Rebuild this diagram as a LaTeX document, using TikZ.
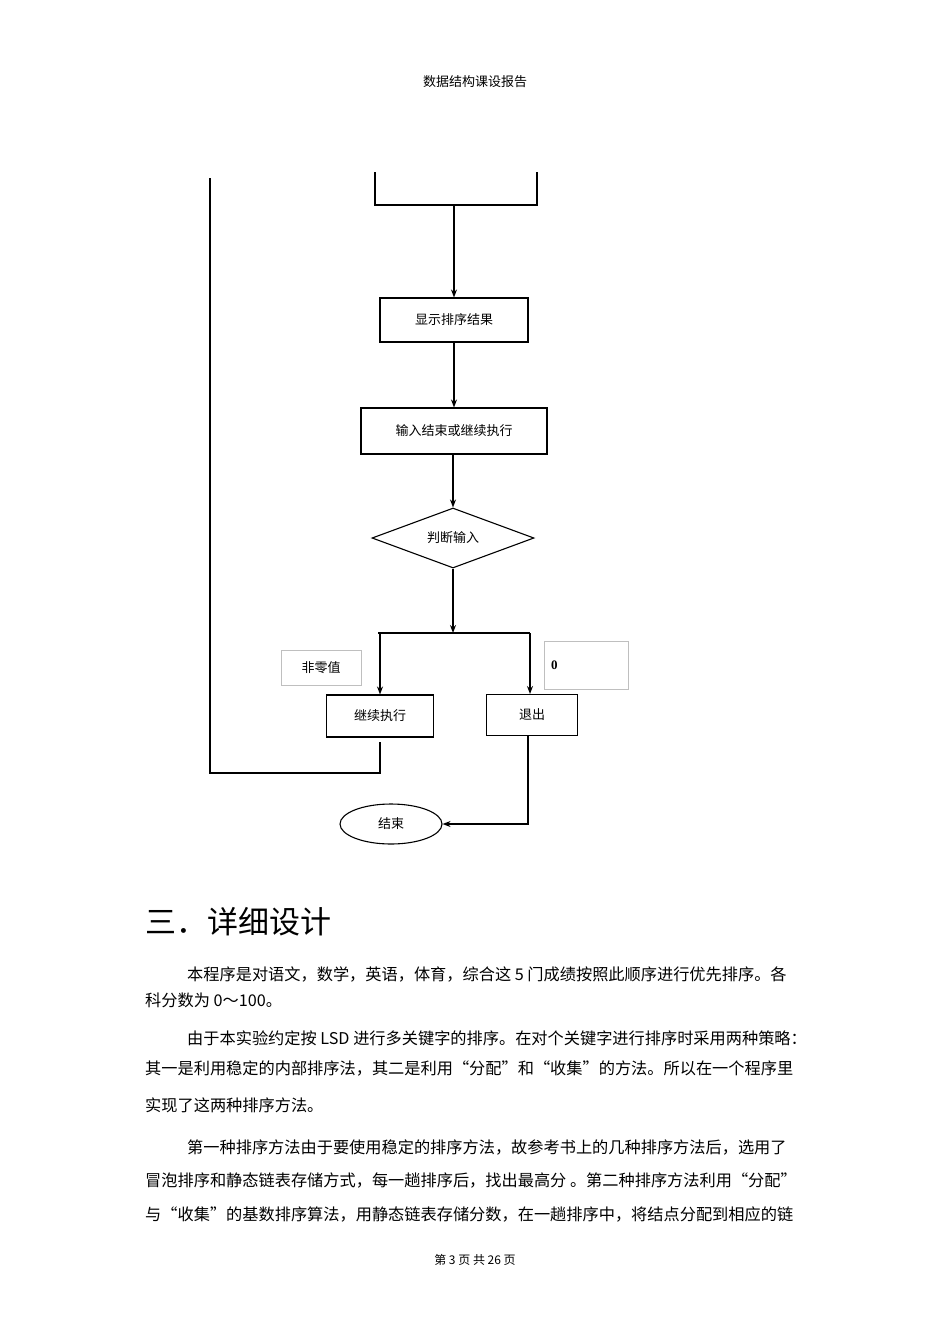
\documentclass[tikz,border=0pt]{standalone}
\usepackage{fontspec}
\setmainfont{Liberation Serif}
\newfontfamily\cjk{Noto Sans CJK SC}
\usetikzlibrary{shapes.geometric,arrows.meta}
\begin{document}
\begin{tikzpicture}[x=1pt,y=-1pt,
  every node/.style={font=\cjk\fontsize{13pt}{15pt}\selectfont},
  box/.style={draw,line width=1.1pt,minimum height=#1},
  ln/.style={line width=1.6pt},
  ar/.style={line width=1.6pt,-{Stealth[length=8pt,width=6pt]}},
  lab/.style={draw=gray!50,line width=0.5pt},
  body/.style={anchor=west,font=\cjk\fontsize{16.2pt}{18pt}\selectfont,inner sep=0pt}]
\useasboundingbox[fill=white] (0,0) rectangle (950,1344);
\node (hdr) at (475,82) {数据结构课设报告};
% top bracket
\coordinate (tl) at (375,172); \coordinate (tr) at (537,172);
\coordinate (bl) at (375,205); \coordinate (br) at (537,205);
\coordinate (bm) at (454,205);
\draw[ln] (tl) -- (bl) -- (br) -- (tr);
\node[box=44pt,minimum width=148pt] (show) at (454,320) {显示排序结果};
\node[box=46pt,minimum width=186pt] (inp) at (454,431) {输入结束或继续执行};
\node[draw,line width=1.1pt,diamond,aspect=2.7,minimum width=162pt,minimum height=60pt,inner sep=0pt] (dec) at (453,538) {判断输入};
\draw[ar] (bm) -- (show);
\draw[ar] (show) -- (inp);
\draw[ar] (inp.south -| dec) -- (dec);
\coordinate (sl) at (378,633); \coordinate (sr) at (530,633); \coordinate (sm) at (453,633);
\draw[ar] (dec.south) -- (sm);
\draw[ln] (sl) -- (sr);
\node[box=42pt,minimum width=107pt] (cont) at (380,716) {继续执行};
\node[box=41pt,minimum width=91pt] (quit) at (532,715) {退出};
\draw[ar] (380,633) -- (cont.north);
\draw[ar] (530,633) -- (530,694);
\node[lab,minimum width=80pt,minimum height=35pt] (nz) at (321,668) {非零值};
\node[lab,minimum width=84pt,minimum height=48pt,font=\bfseries\fontsize{13pt}{15pt}\selectfont,text width=70pt,align=left] (zero) at (586,665) {0};
\node[draw,line width=1.1pt,ellipse,minimum width=102pt,minimum height=40pt] (end) at (391,824) {结束};
\coordinate (qd) at (528,824);
\draw[ar] (quit.south -| qd) -- (qd) -- (end.east);
\coordinate (lt) at (210,178); \coordinate (lb) at (210,773);
\coordinate (cb) at (380,773); \coordinate (ct) at (380,742);
\draw[ln] (lt) -- (lb) -- (cb) -- (ct);
% text
\node[anchor=west,inner sep=0pt,font=\cjk\fontsize{31pt}{36pt}\selectfont] (h3) at (145,922) {三．详细设计};
\node[body] (p1) at (187,974) {本程序是对语文，数学，英语，体育，综合这 5 门成绩按照此顺序进行优先排序。各};
\node[body] (p2) at (145,1000) {科分数为 0～100。};
\node[body] (p3) at (187,1038) {由于本实验约定按 LSD 进行多关键字的排序。在对个关键字进行排序时采用两种策略：};
\node[body] (p4) at (145,1068) {其一是利用稳定的内部排序法，其二是利用“分配”和“收集”的方法。所以在一个程序里};
\node[body] (p5) at (145,1105) {实现了这两种排序方法。};
\node[body] (p6) at (187,1147) {第一种排序方法由于要使用稳定的排序方法，故参考书上的几种排序方法后，选用了};
\node[body] (p7) at (145,1180) {冒泡排序和静态链表存储方式，每一趟排序后，找出最高分 。第二种排序方法利用“分配”};
\node[body] (p8) at (145,1214) {与“收集”的基数排序算法，用静态链表存储分数，在一趟排序中，将结点分配到相应的链};
\node[font=\cjk\fontsize{12pt}{14pt}\selectfont] (ft) at (475,1260) {第 3 页 共 26 页};
\end{tikzpicture}
\end{document}
